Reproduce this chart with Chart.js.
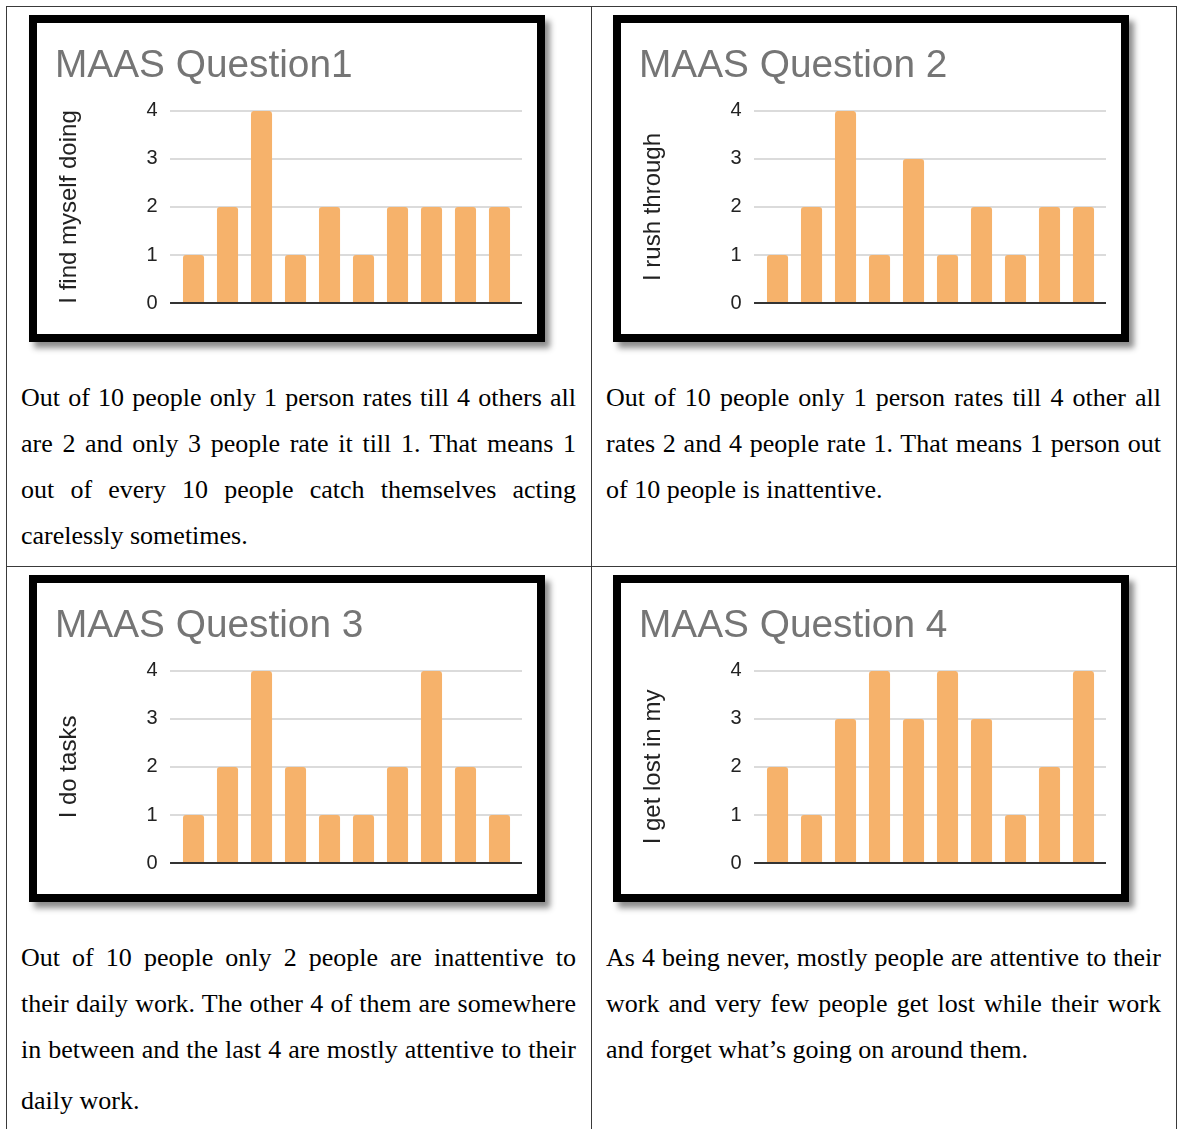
<!DOCTYPE html>
<html>
<head>
<meta charset="utf-8">
<script src="https://cdn.jsdelivr.net/npm/chart.js@4.4.1/dist/chart.umd.min.js"></script>
<style>
  html,body{margin:0;padding:0;background:#fff;}
  body{width:1177px;height:1129px;position:relative;overflow:hidden;}
  .vline{position:absolute;background:#3a3a3a;width:1px;}
  .hline{position:absolute;background:#3a3a3a;height:1px;}
  .box{position:absolute;width:500px;height:311px;border:8px solid #000;background:#fff;
       box-shadow:5px 6px 6px rgba(0,0,0,0.45);}
  .box canvas{display:block;}
  .txt{position:absolute;width:555px;font-family:'Liberation Serif','Times New Roman',serif;
       font-size:26px;color:#000;line-height:46px;}
  .txt div{text-align:justify;text-align-last:justify;white-space:nowrap;}
  .txt div.last{text-align:left;text-align-last:left;}
</style>
</head>
<body>
<div class="hline" style="left:6px;top:6px;width:1171px;"></div>
<div class="hline" style="left:6px;top:566px;width:1171px;"></div>
<div class="vline" style="left:6px;top:6px;height:1123px;"></div>
<div class="vline" style="left:591px;top:6px;height:1123px;"></div>
<div class="vline" style="left:1176px;top:6px;height:1123px;"></div>

<div class="box" style="left:29px;top:15px;"><canvas id="c1" width="500" height="311"></canvas></div>
<div class="box" style="left:613px;top:15px;"><canvas id="c2" width="500" height="311"></canvas></div>
<div class="box" style="left:29px;top:575px;"><canvas id="c3" width="500" height="311"></canvas></div>
<div class="box" style="left:613px;top:575px;"><canvas id="c4" width="500" height="311"></canvas></div>

<div class="txt" id="t1" style="left:21px;top:375px;"></div>
<div class="txt" id="t2" style="left:606px;top:375px;"></div>
<div class="txt" id="t3" style="left:21px;top:935px;"></div>
<div class="txt" id="t4" style="left:606px;top:935px;"></div>

<script>
// ---- data ----
const respondents = ['1','2','3','4','5','6','7','8','9','10'];
const yTicks = [0, 1, 2, 3, 4];

const q1Values = [1, 2, 4, 1, 2, 1, 2, 2, 2, 2];
const q2Values = [1, 2, 4, 1, 3, 1, 2, 1, 2, 2];
const q3Values = [1, 2, 4, 2, 1, 1, 2, 4, 2, 1];
const q4Values = [2, 1, 3, 4, 3, 4, 3, 1, 2, 4];

const chartTitles = ['MAAS Question1', 'MAAS Question 2', 'MAAS Question 3', 'MAAS Question 4'];
const axisTitles = ['I find myself doing', 'I rush through', 'I do tasks', 'I get lost in my'];

const text1 = ['Out of 10 people only 1 person rates till 4 others all',
               'are 2 and only 3 people rate it till 1. That means 1',
               'out of every 10 people catch themselves acting',
               'carelessly sometimes.'];
const text2 = ['Out of 10 people only 1 person rates till 4 other all',
               'rates 2 and 4 people rate 1. That means 1 person out',
               'of 10 people is inattentive.'];
const text3 = ['Out of 10 people only 2 people are inattentive to',
               'their daily work. The other 4 of them are somewhere',
               'in between and the last 4 are mostly attentive to their',
               'daily work.'];
const text4 = ['As 4 being never, mostly people are attentive to their',
               'work and very few people get lost while their work',
               'and forget what\u2019s going on around them.'];

// ---- text blocks ----
function fillText(id, lines, lastGap){
  const el = document.getElementById(id);
  lines.forEach((l, i) => {
    const d = document.createElement('div');
    d.textContent = l;
    if (i === lines.length - 1) {
      d.className = 'last';
      if (lastGap) d.style.marginTop = lastGap + 'px';
    }
    el.appendChild(d);
  });
}
fillText('t1', text1);
fillText('t2', text2);
fillText('t3', text3, 5);
fillText('t4', text4);

// ---- charts ----
const gridPlugin = {
  id: 'extGrid',
  beforeDatasetsDraw(chart){
    const {ctx, chartArea: a, scales: {y}} = chart;
    ctx.save();
    ctx.strokeStyle = '#cfcfcf';
    ctx.lineWidth = 1.5;
    y.ticks.forEach(t => {
      if (t.value === 0) return;
      const py = y.getPixelForValue(t.value);
      ctx.beginPath();
      ctx.moveTo(a.left - 6.5, py);
      ctx.lineTo(a.right + 5.5, py);
      ctx.stroke();
    });
    ctx.restore();
  },
  afterDatasetsDraw(chart){
    const {ctx, chartArea: a, scales: {y}} = chart;
    const py = y.getPixelForValue(0);
    ctx.save();
    ctx.strokeStyle = '#333333';
    ctx.lineWidth = 2;
    ctx.beginPath();
    ctx.moveTo(a.left - 6.5, py);
    ctx.lineTo(a.right + 5.5, py);
    ctx.stroke();
    ctx.restore();
  }
};

function makeChart(id, values, title, axisTitle){
  new Chart(document.getElementById(id), {
    type: 'bar',
    data: {
      labels: respondents,
      datasets: [{
        data: values,
        backgroundColor: '#F6B26B',
        borderWidth: 0,
        borderRadius: {topLeft: 3, topRight: 3, bottomLeft: 0, bottomRight: 0},
        borderSkipped: 'bottom',
        barPercentage: 0.62,
        categoryPercentage: 1.0
      }]
    },
    options: {
      responsive: false,
      animation: false,
      devicePixelRatio: 1,
      layout: {padding: {left: 18, right: 20.5, top: 0, bottom: 30}},
      plugins: {
        legend: {display: false},
        tooltip: {enabled: false},
        title: {
          display: true,
          text: title,
          align: 'start',
          color: '#757575',
          font: {family: "'Liberation Sans', Arial, sans-serif", size: 38.8, weight: 'normal'},
          padding: {top: 20, bottom: 21.4}
        }
      },
      scales: {
        x: {type: 'category', display: false, offset: true},
        y: {
          min: yTicks[0],
          max: yTicks[yTicks.length - 1],
          afterBuildTicks(scale){ scale.ticks = yTicks.map(v => ({value: v})); },
          grid: {display: false, drawTicks: false},
          border: {display: false},
          ticks: {
            color: '#222222',
            padding: 19,
            font: {family: "'Liberation Sans', Arial, sans-serif", size: 20}
          },
          title: {
            display: true,
            text: axisTitle,
            color: '#222222',
            font: {family: "'Liberation Sans', Arial, sans-serif", size: 24},
            padding: {top: 0, bottom: 43.6}
          }
        }
      }
    },
    plugins: [gridPlugin]
  });
}

makeChart('c1', q1Values, chartTitles[0], axisTitles[0]);
makeChart('c2', q2Values, chartTitles[1], axisTitles[1]);
makeChart('c3', q3Values, chartTitles[2], axisTitles[2]);
makeChart('c4', q4Values, chartTitles[3], axisTitles[3]);
</script>
</body>
</html>
